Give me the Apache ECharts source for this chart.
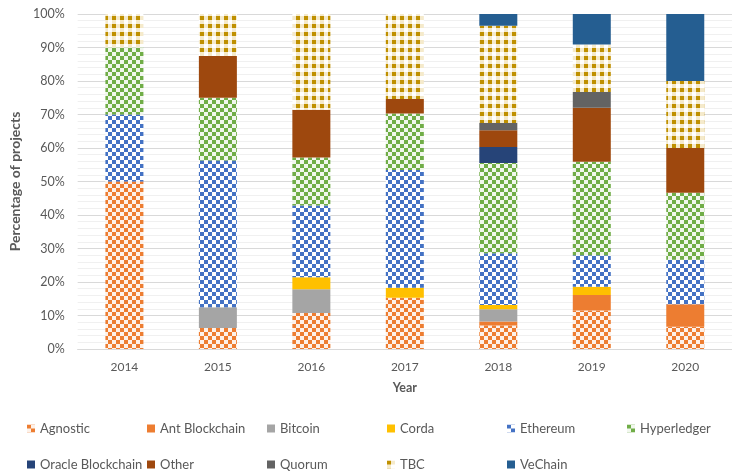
<!DOCTYPE html>
<html>
<head>
<meta charset="utf-8">
<script src="https://cdn.jsdelivr.net/npm/echarts@6/dist/echarts.min.js"></script>
<style>html,body{margin:0;padding:0;background:#fff;}#c{width:732px;height:472px;}</style>
</head>
<body>
<div id="c"></div>
<script>
var years = ['2014', '2015', '2016', '2017', '2018', '2019', '2020'];
var yTicks = [0, 10, 20, 30, 40, 50, 60, 70, 80, 90, 100];
var seriesNames = ['Agnostic', 'Ant Blockchain', 'Bitcoin', 'Corda', 'Ethereum', 'Hyperledger', 'Oracle Blockchain', 'Other', 'Quorum', 'TBC', 'VeChain'];
var agnostic    = [50, 6.25, 10.71, 15.3, 7.0, 11.5, 6.67];
var antBlock    = [0, 0, 0, 0, 1.2, 4.6, 6.67];
var bitcoin     = [0, 6.25, 7.14, 0, 3.7, 0, 0];
var corda       = [0, 0, 3.57, 3.0, 1.2, 2.5, 0];
var ethereum    = [20, 43.75, 21.43, 35.1, 15.5, 9.4, 13.33];
var hyperledger = [20, 18.75, 14.29, 16.9, 26.9, 27.9, 20];
var oracle      = [0, 0, 0, 0, 4.8, 0, 0];
var other       = [0, 12.5, 14.29, 4.3, 5.0, 16.1, 13.33];
var quorum      = [0, 0, 0, 0, 2.2, 4.7, 0];
var tbc         = [10, 12.5, 28.57, 25.4, 29.0, 14.2, 20];
var vechain     = [0, 0, 0, 0, 3.5, 9.1, 20];
var seriesData = [agnostic, antBlock, bitcoin, corda, ethereum, hyperledger, oracle, other, quorum, tbc, vechain];

function checker(c1, c2) {
  var cv = document.createElement('canvas');
  cv.width = 8; cv.height = 8;
  var g = cv.getContext('2d');
  g.fillStyle = c2; g.fillRect(0, 0, 8, 8);
  g.fillStyle = c1; g.fillRect(0, 0, 4, 4); g.fillRect(4, 4, 4, 4);
  return { image: cv, repeat: 'repeat' };
}
function plaid(c1, c2) {
  var cv = document.createElement('canvas');
  cv.width = 8; cv.height = 8;
  var g = cv.getContext('2d');
  g.fillStyle = '#ffffff'; g.fillRect(0, 0, 8, 8);
  g.fillStyle = c2; g.fillRect(4, 0, 4, 4); g.fillRect(0, 4, 4, 4);
  g.fillStyle = c1; g.fillRect(0, 0, 4, 4);
  return { image: cv, repeat: 'repeat' };
}

var colors = [
  checker('#ED7D31', '#FDF1E9'),
  '#ED7D31',
  '#A5A5A5',
  '#FFC000',
  checker('#4472C4', '#FFFFFF'),
  checker('#70AD47', '#F1F7ED'),
  '#264478',
  '#9E480E',
  '#636363',
  plaid('#BF9000', '#F5EACB'),
  '#255E91'
];

var textColor = '#595959';
var fontFam = 'Lato, "Liberation Sans", sans-serif';

var series = seriesNames.map(function (n, i) {
  return {
    name: n, type: 'bar', stack: 'total', barWidth: 38,
    itemStyle: { color: colors[i] },
    data: seriesData[i]
  };
});

var legendLefts = [22, 142, 262, 382, 502, 622];
var legends = seriesNames.map(function (n, i) {
  var row = Math.floor(i / 6), col = i % 6;
  return {
    data: [n], left: legendLefts[col], top: row === 0 ? 417 : 453,
    icon: 'rect', itemWidth: 8, itemHeight: 8,
    selectedMode: false,
    textStyle: { color: textColor, fontSize: 13, fontFamily: fontFam }
  };
});

var chart = echarts.init(document.getElementById('c'), null, { renderer: 'canvas' });
chart.setOption({
  animation: false,
  backgroundColor: '#ffffff',
  legend: legends,
  grid: { left: 75, right: -12, top: 14, bottom: 123, containLabel: false },
  xAxis: {
    type: 'category', data: years,
    axisLine: { lineStyle: { color: '#d9d9d9' } },
    axisTick: { show: false },
    axisLabel: { color: textColor, fontSize: 12, fontFamily: fontFam, margin: 12 },
    name: 'Year', nameLocation: 'middle', nameGap: 32,
    nameTextStyle: { color: textColor, fontSize: 12.5, fontWeight: 'bold', fontFamily: fontFam }
  },
  yAxis: {
    type: 'value', min: yTicks[0], max: yTicks[yTicks.length - 1], interval: 10,
    axisLine: { show: false }, axisTick: { show: false },
    axisLabel: { color: textColor, fontSize: 12.5, fontFamily: fontFam, margin: 13, formatter: '{value}%' },
    splitLine: { lineStyle: { color: '#d9d9d9' } },
    minorTick: { show: false, splitNumber: 5 },
    minorSplitLine: { show: true, lineStyle: { color: '#f0f0f0' } },
    name: 'Percentage of projects', nameLocation: 'middle', nameGap: 50,
    nameTextStyle: { color: textColor, fontSize: 14, fontWeight: 'bold', fontFamily: fontFam }
  },
  series: series
});
</script>
</body>
</html>
